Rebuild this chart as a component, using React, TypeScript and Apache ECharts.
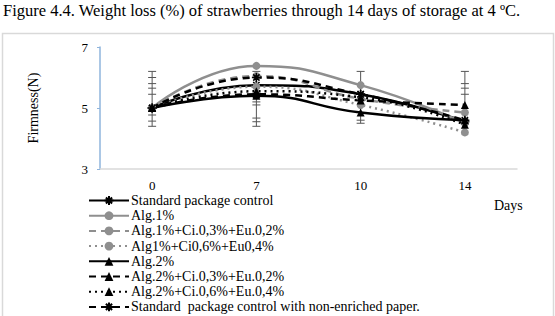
import React, { useEffect, useRef } from "react";
import * as echarts from "echarts";

const days = ["0", "7", "10", "14"];
const seriesNames = [
  "Standard package control",
  "Alg.1%",
  "Alg.1%+Ci.0,3%+Eu.0,2%",
  "Alg1%+Ci0,6%+Eu0,4%",
  "Alg.2%",
  "Alg.2%+Ci.0,3%+Eu.0,2%",
  "Alg.2%+Ci.0,6%+Eu.0,4%",
  "Standard  package control with non-enriched paper.",
];
const stdControl = [5, 5.75, 5.45, 4.55];
const alg1 = [5, 6.38, 5.75, 4.5];
const alg1Ci03 = [5, 6.05, 5.3, 4.85];
const alg1Ci06 = [5, 5.7, 5.1, 4.2];
const alg2 = [5, 5.4, 4.85, 4.6];
const alg2Ci03 = [5, 5.45, 5.25, 5.1];
const alg2Ci06 = [5, 5.55, 5.35, 4.45];
const stdNonEnriched = [5, 6.0, 5.45, 4.6];

const errLow = [4.4, 4.4, 4.5, 4.5];
const errHigh = [6.2, 6.2, 6.2, 6.2];
const errCaps = [
  [6.2, 6.0, 5.8, 5.65, 5.45, 4.77, 4.57, 4.4],
  [6.2, 5.2, 5.1, 4.67, 4.55, 4.4],
  [6.2, 4.6, 4.5],
  [6.2, 5.8, 5.65, 5.45],
];

const yTicks = { min: 3, max: 7, interval: 2 };

const BLACK = "#000000";
const GRAY = "#8f8f8f";
const FONT = "Liberation Serif";

const star =
  "path://M5 0 L5 10 M0 5 L10 5 M1.5 1.5 L8.5 8.5 M8.5 1.5 L1.5 8.5";

export default function App() {
  const ref = useRef<HTMLDivElement>(null);
  useEffect(() => {
    if (!ref.current) return;
    const chart = echarts.init(ref.current, undefined, { renderer: "svg" });

    const mk = (
      name: string,
      data: number[],
      color: string,
      type: "solid" | "dashed" | "dotted",
      symbol: string
    ) => ({
      name,
      type: "line",
      data,
      smooth: true,
      symbol,
      symbolSize: symbol === star ? 9 : 8,
      lineStyle: {
        color,
        width: 2.5,
        type: type === "dashed" ? [7, 5] : type === "dotted" ? [2, 4] : "solid",
      },
      itemStyle:
        symbol === star
          ? { color: "none", borderColor: color, borderWidth: 1.5 }
          : { color, borderWidth: 0 },
      z: 3,
    });

    const capData: number[][] = [];
    errCaps.forEach((caps, i) => caps.forEach((c) => capData.push([i, c])));

    chart.setOption({
      animation: false,
      textStyle: { fontFamily: FONT },
      graphic: [
        {
          type: "text",
          left: 3,
          top: 2,
          style: {
            text: "Figure 4.4. Weight loss (%) of strawberries through 14 days of storage at 4 ºC.",
            font: `16.5px '${FONT}'`,
            fill: "#000",
          },
        },
        {
          type: "rect",
          shape: { x: 2.5, y: 33.5, width: 551, height: 300 },
          style: { fill: "none", stroke: "#d9d9d9", lineWidth: 1.5 },
          silent: true,
        },
        {
          type: "text",
          left: 494,
          top: 198,
          style: { text: "Days", font: `14px '${FONT}'`, fill: "#000" },
        },
      ],
      grid: { left: 100, right: 38, top: 47, bottom: 147 },
      legend: seriesNames.map((n, i) => ({
        data: [n],
        orient: "vertical",
        left: 88,
        top: 193.5 + i * 15.2,
        padding: 0,
        itemWidth: 40,
        itemHeight: 11,
        textStyle: {
          fontFamily: FONT,
          fontSize: 14,
          lineHeight: 13,
          color: "#000",
          padding: [0, 0, 0, -3],
        },
      })),
      xAxis: {
        type: "category",
        data: days,
        axisLine: { lineStyle: { color: "#d9d9d9", width: 1.5 } },
        axisTick: { alignWithLabel: true, lineStyle: { color: "#d9d9d9" }, length: 4 },
        axisLabel: { color: "#000", fontSize: 13, margin: 10, fontFamily: FONT },
      },
      yAxis: {
        type: "value",
        min: yTicks.min,
        max: yTicks.max,
        interval: yTicks.interval,
        splitLine: { show: false },
        axisLine: { show: true, lineStyle: { color: "#8fb4dc", width: 1.5 } },
        axisTick: { show: true, length: 3, lineStyle: { color: "#8fb4dc" } },
        axisLabel: { color: "#000", fontSize: 13, margin: 12, fontFamily: FONT },
        name: "Firmness(N)",
        nameLocation: "middle",
        nameGap: 60,
        nameTextStyle: { fontSize: 14, color: "#000", fontFamily: FONT },
      },
      series: [
        {
          type: "custom",
          data: days.map((_, i) => [i, errLow[i], errHigh[i]]),
          renderItem: (_p: any, api: any) => {
            const a = api.coord([api.value(0), api.value(1)]);
            const b = api.coord([api.value(0), api.value(2)]);
            return {
              type: "line",
              shape: { x1: a[0], y1: a[1], x2: b[0], y2: b[1] },
              style: { stroke: "#555", lineWidth: 1 },
            };
          },
          z: 1,
          silent: true,
        },
        {
          type: "custom",
          data: capData,
          renderItem: (_p: any, api: any) => {
            const a = api.coord([api.value(0), api.value(1)]);
            return {
              type: "line",
              shape: { x1: a[0] - 4, y1: a[1], x2: a[0] + 4, y2: a[1] },
              style: { stroke: "#555", lineWidth: 1 },
            };
          },
          z: 1,
          silent: true,
        },
        mk(seriesNames[0], stdControl, BLACK, "solid", star),
        mk(seriesNames[1], alg1, GRAY, "solid", "circle"),
        mk(seriesNames[2], alg1Ci03, GRAY, "dashed", "circle"),
        mk(seriesNames[3], alg1Ci06, GRAY, "dotted", "circle"),
        mk(seriesNames[4], alg2, BLACK, "solid", "triangle"),
        mk(seriesNames[5], alg2Ci03, BLACK, "dashed", "triangle"),
        mk(seriesNames[6], alg2Ci06, BLACK, "dotted", "triangle"),
        mk(seriesNames[7], stdNonEnriched, BLACK, "dashed", star),
      ],
    });
    return () => chart.dispose();
  }, []);
  return <div ref={ref} style={{ width: 555, height: 316, position: "absolute", left: 0, top: 0 }} />;
}
